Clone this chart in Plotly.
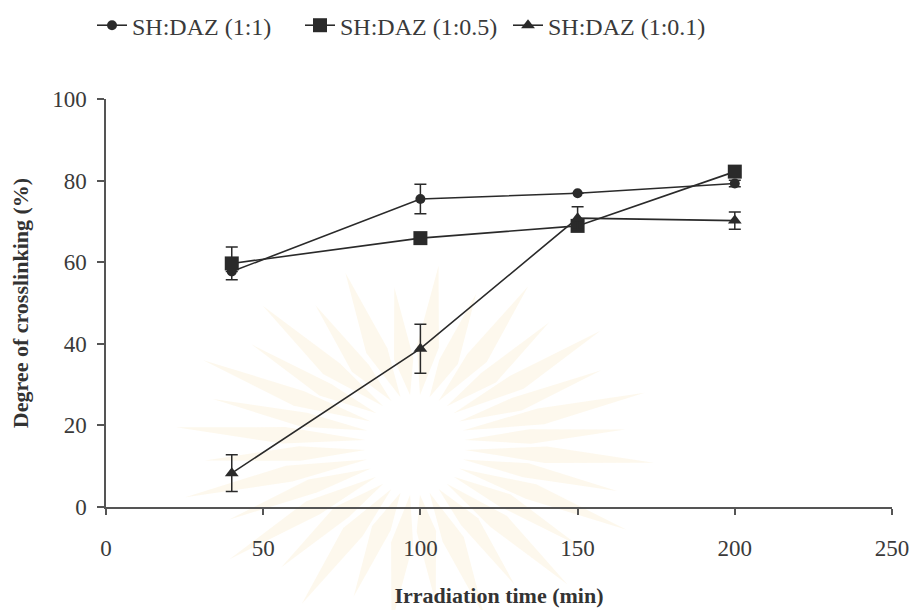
import math
import plotly.graph_objects as go

# Irradiation time (min)
times = [40, 100, 150, 200]

# Degree of crosslinking (%) for each SH:DAZ ratio, with error bars
sh_1_1 = [57.7, 75.5, 76.9, 79.3]
sh_1_1_err = [0.0, 3.6, 0.0, 0.8]

sh_1_05 = [59.7, 65.9, 68.9, 82.2]
sh_1_05_err = [4.0, 0.0, 0.0, 0.0]

sh_1_01 = [8.3, 38.8, 70.8, 70.2]
sh_1_01_err = [4.5, 6.0, 2.8, 2.1]

names = ["SH:DAZ (1:1)", "SH:DAZ (1:0.5)", "SH:DAZ (1:0.1)"]
x_ticks = [0, 50, 100, 150, 200, 250]
y_ticks = [0, 20, 40, 60, 80, 100]

INK = "#2a2a2a"
AXIS = "#555555"
TEXT = "#3a3a3a"
FONT = "Liberation Serif"

W, H = 911, 610
ML, MR, MT, MB = 106, 19, 99, 103
PW, PH = W - ML - MR, H - MT - MB

series = [
    (names[0], sh_1_1, sh_1_1_err, "circle", 10),
    (names[1], sh_1_05, sh_1_05_err, "square", 14),
    (names[2], sh_1_01, sh_1_01_err, "triangle-up", 12),
]

fig = go.Figure()
for name, vals, errs, sym, size in series:
    fig.add_trace(go.Scatter(
        x=times, y=vals, name=name, mode="lines+markers",
        line=dict(color=INK, width=1.6),
        marker=dict(symbol=sym, size=size, color=INK, line=dict(width=0)),
        error_y=dict(type="data", array=errs, visible=True,
                     color=INK, thickness=1.5, width=6),
        cliponaxis=False,
    ))


# Faint sunburst emblem printed behind the figure (page watermark)
def to_paper(px, py):
    return (px - ML) / PW, (H - MB - py) / PH


def sunburst_shapes(cx, cy, r_in, rx, ry, n_rays):
    shapes = []
    for i in range(n_rays):
        a = 2 * math.pi * (i + 0.5) / n_rays
        half = math.radians(4.8)
        k = 1.0 if i % 2 == 0 else 0.88
        ox, oy = rx * k, ry * k
        pts = [
            (cx + r_in * math.cos(a), cy + r_in * math.sin(a)),
            (cx + 0.55 * ox * math.cos(a - half),
             cy + 0.55 * oy * math.sin(a - half)),
            (cx + ox * math.cos(a), cy + oy * math.sin(a)),
            (cx + 0.55 * ox * math.cos(a + half),
             cy + 0.55 * oy * math.sin(a + half)),
        ]
        path = "M " + " L ".join(
            "{:.4f},{:.4f}".format(*to_paper(x, y)) for x, y in pts) + " Z"
        shapes.append(dict(
            type="path", path=path, xref="paper", yref="paper",
            fillcolor="rgba(240, 198, 105, 0.12)", line=dict(width=0),
            layer="below",
        ))
    return shapes


fig.update_layout(
    width=W, height=H,
    margin=dict(l=ML, r=MR, t=MT, b=MB, autoexpand=False),
    paper_bgcolor="white", plot_bgcolor="rgba(0,0,0,0)",
    font=dict(family=FONT, color=TEXT, size=23),
    showlegend=True,
    legend=dict(
        orientation="h", x=(92 - ML) / PW, xanchor="left",
        y=1.235, yanchor="top",
        font=dict(family=FONT, size=24, color=TEXT),
        bgcolor="rgba(0,0,0,0)", borderwidth=0, itemwidth=30,
        entrywidth=163, entrywidthmode="pixels",
        traceorder="normal",
    ),
    shapes=sunburst_shapes(415, 445, 50, 240, 180, 32),
)

fig.update_xaxes(
    range=[0, 250], tickvals=x_ticks, showgrid=False, zeroline=False,
    showline=True, linecolor=AXIS, linewidth=1.5,
    ticks="outside", ticklen=6, tickwidth=1.5, tickcolor=AXIS,
    tickfont=dict(family=FONT, size=23, color=TEXT),
    ticklabelstandoff=14,
    title=dict(text="<b>Irradiation time (min)</b>", standoff=27,
               font=dict(family=FONT, size=22, color="#333333")),
)
fig.update_yaxes(
    range=[0, 100], tickvals=y_ticks, showgrid=False, zeroline=False,
    showline=True, linecolor=AXIS, linewidth=1.5,
    ticks="outside", ticklen=7, tickwidth=1.5, tickcolor=AXIS,
    tickfont=dict(family=FONT, size=23, color=TEXT),
    ticklabelstandoff=6,
    title=dict(text="<b>Degree of crosslinking (%)</b>", standoff=17,
               font=dict(family=FONT, size=22, color="#333333")),
)

fig.write_html("out.html")
